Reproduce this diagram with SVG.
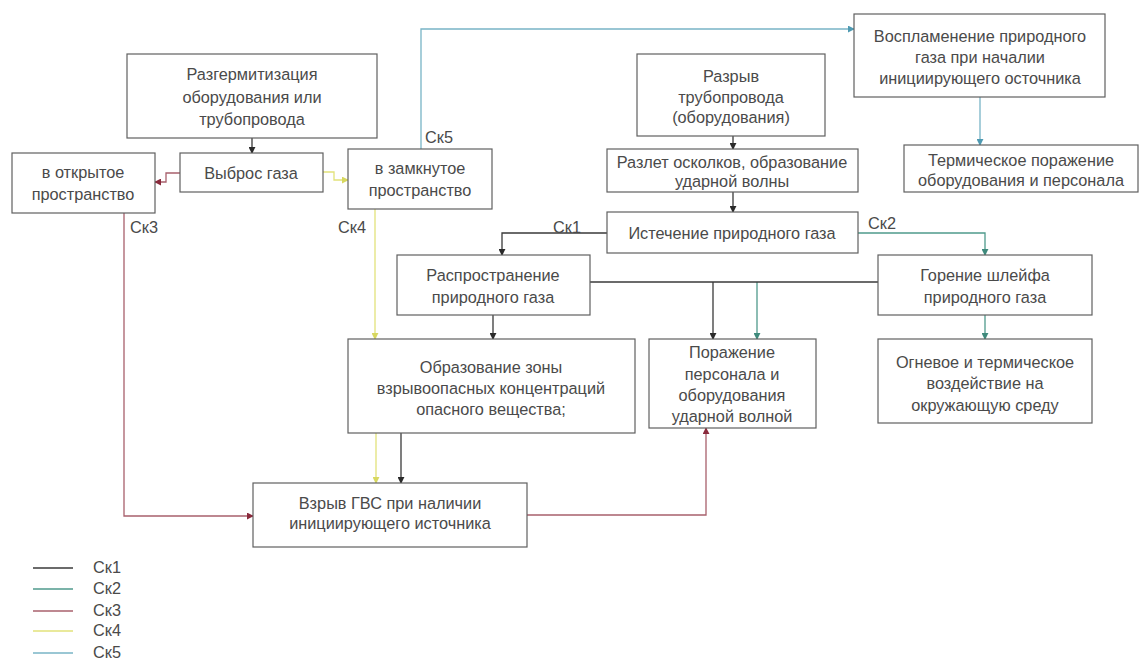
<svg xmlns="http://www.w3.org/2000/svg" width="1139" height="660" viewBox="0 0 1139 660">
<style>
.box{fill:#fff;stroke:#606060;stroke-width:1.2}
text{font-family:"Liberation Sans",Arial,sans-serif;font-size:16.3px;fill:#4a4a4a;text-anchor:middle}
.lab{text-anchor:start}
.c{fill:none;stroke-width:1.3}
.k1{stroke:#3a3a3a}.k2{stroke:#4f9a8c}.k3{stroke:#a8606c}.k4{stroke:#e2e27a}.k5{stroke:#78b4c6}
</style>
<defs>
<marker id="a1" viewBox="0 0 8 8" refX="7" refY="4" markerWidth="7" markerHeight="7" orient="auto" markerUnits="userSpaceOnUse"><path d="M0,0L8,4L0,8z" fill="#2a2a2a"/></marker>
<marker id="a2" viewBox="0 0 8 8" refX="7" refY="4" markerWidth="7" markerHeight="7" orient="auto" markerUnits="userSpaceOnUse"><path d="M0,0L8,4L0,8z" fill="#3f8a7c"/></marker>
<marker id="a3" viewBox="0 0 8 8" refX="7" refY="4" markerWidth="7" markerHeight="7" orient="auto" markerUnits="userSpaceOnUse"><path d="M0,0L8,4L0,8z" fill="#8a2a3c"/></marker>
<marker id="a4" viewBox="0 0 8 8" refX="7" refY="4" markerWidth="7" markerHeight="7" orient="auto" markerUnits="userSpaceOnUse"><path d="M0,0L8,4L0,8z" fill="#d8d860"/></marker>
<marker id="a5" viewBox="0 0 8 8" refX="7" refY="4" markerWidth="7" markerHeight="7" orient="auto" markerUnits="userSpaceOnUse"><path d="M0,0L8,4L0,8z" fill="#4f9ab2"/></marker>
</defs>
<g id="connectors">
<path class="c k1" d="M252,138V153" marker-end="url(#a1)"/>
<path class="c k3" d="M180,173H166V182H155" marker-end="url(#a3)"/>
<path class="c k4" d="M323,172H334V180H348" marker-end="url(#a4)"/>
<path class="c k3" d="M124,213V516H253" marker-end="url(#a3)"/>
<path class="c k4" d="M375,209V339" marker-end="url(#a4)"/>
<path class="c k4" d="M376,433V483" marker-end="url(#a4)"/>
<path class="c k1" d="M401,433V483" marker-end="url(#a1)"/>
<path class="c k5" d="M421,149V29H854" marker-end="url(#a5)"/>
<path class="c k5" d="M980,97V145" marker-end="url(#a5)"/>
<path class="c k1" d="M733,136V149" marker-end="url(#a1)"/>
<path class="c k1" d="M733,192V212" marker-end="url(#a1)"/>
<path class="c k1" d="M607,233H502V255" marker-end="url(#a1)"/>
<path class="c k2" d="M858,233H985V255" marker-end="url(#a2)"/>
<path class="c k1" d="M493,315V339" marker-end="url(#a1)"/>
<path class="c k2" d="M757,282V339" marker-end="url(#a2)"/>
<path class="c k1" d="M590,282H878"/>
<path class="c k1" d="M713,282V339" marker-end="url(#a1)"/>
<path class="c k2" d="M985,315V339" marker-end="url(#a2)"/>
<path class="c k3" d="M527,515H706V428" marker-end="url(#a3)"/>
</g>
<g id="labels">
<text class="lab" x="130" y="233">Ск3</text>
<text class="lab" x="338" y="233">Ск4</text>
<text class="lab" x="425" y="143">Ск5</text>
<text class="lab" x="553" y="233">Ск1</text>
<text class="lab" x="868" y="229">Ск2</text>
</g>
<g id="n1"><rect class="box" x="127" y="54" width="250" height="84"/><text x="252" y="80">Разгермитизация</text><text x="252" y="103">оборудования или</text><text x="252" y="125">трубопровода</text></g>
<g id="n2"><rect class="box" x="180" y="153" width="143" height="39"/><text x="251" y="179">Выброс газа</text></g>
<g id="n3"><rect class="box" x="12" y="153" width="143" height="60"/><text x="83" y="178">в открытое</text><text x="83" y="200">пространство</text></g>
<g id="n4"><rect class="box" x="348" y="149" width="144" height="60"/><text x="420" y="174">в замкнутое</text><text x="420" y="196">пространство</text></g>
<g id="n5"><rect class="box" x="637" y="54" width="188" height="82"/><text x="731" y="82">Разрыв</text><text x="731" y="103">трубопровода</text><text x="731" y="123">(оборудования)</text></g>
<g id="n6"><rect class="box" x="607" y="149" width="251" height="43"/><text x="732" y="168">Разлет осколков, образование</text><text x="732" y="187">ударной волны</text></g>
<g id="n7"><rect class="box" x="607" y="212" width="251" height="41"/><text x="732" y="239">Истечение природного газа</text></g>
<g id="n8"><rect class="box" x="854" y="14" width="251" height="83"/><text x="980" y="42">Воспламенение природного</text><text x="980" y="63">газа при началии</text><text x="980" y="84">инициирующего осточника</text></g>
<g id="n9"><rect class="box" x="904" y="145" width="234" height="47"/><text x="1021" y="166">Термическое поражение</text><text x="1021" y="186">оборудования и персонала</text></g>
<g id="n10"><rect class="box" x="397" y="255" width="193" height="60"/><text x="493" y="281">Распространение</text><text x="493" y="303">природного газа</text></g>
<g id="n11"><rect class="box" x="878" y="255" width="214" height="60"/><text x="985" y="281">Горение шлейфа</text><text x="985" y="303">природного газа</text></g>
<g id="n12"><rect class="box" x="348" y="339" width="287" height="94"/><text x="491" y="373">Образование зоны</text><text x="491" y="394">взрывоопасных концентраций</text><text x="491" y="415">опасного вещества;</text></g>
<g id="n13"><rect class="box" x="649" y="339" width="167" height="89"/><text x="732" y="358">Поражение</text><text x="732" y="380">персонала и</text><text x="732" y="401">оборудования</text><text x="732" y="422">ударной волной</text></g>
<g id="n14"><rect class="box" x="878" y="339" width="214" height="84"/><text x="985" y="368">Огневое и термическое</text><text x="985" y="389">воздействие на</text><text x="985" y="411">окружающую среду</text></g>
<g id="n15"><rect class="box" x="253" y="483" width="274" height="64"/><text x="390" y="509">Взрыв ГВС при наличии</text><text x="390" y="529">инициирующего источника</text></g>
<g id="legend">
<path class="c k1" d="M33,568H73"/><text class="lab" x="93" y="573">Ск1</text>
<path class="c k2" d="M33,589H73"/><text class="lab" x="93" y="594">Ск2</text>
<path class="c k3" d="M33,611H73"/><text class="lab" x="93" y="616">Ск3</text>
<path class="c k4" d="M33,631H73"/><text class="lab" x="93" y="636">Ск4</text>
<path class="c k5" d="M33,653H73"/><text class="lab" x="93" y="658">Ск5</text>
</g>
</svg>
